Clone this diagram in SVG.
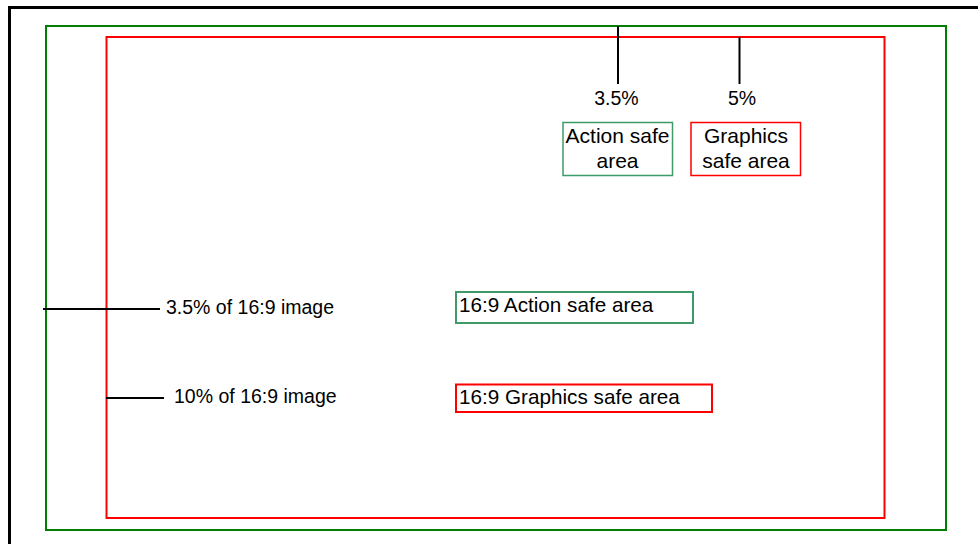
<svg xmlns="http://www.w3.org/2000/svg" width="978" height="544" viewBox="0 0 978 544">
<style>
text{font-family:"Liberation Sans",Arial,sans-serif;fill:#000}
.lbl{font-size:21px}
.wide{font-size:20.7px}
.sm{font-size:19.5px}
.ln{stroke:#000;stroke-width:2;fill:none}
</style>
<rect width="978" height="544" fill="#fff"/>
<g id="frame"><path d="M9.5,544 V7.5 H980" fill="none" stroke="#000" stroke-width="3"/></g>
<g id="action-area"><rect x="46" y="26" width="900" height="504" fill="none" stroke="#008000" stroke-width="2"/></g>
<g id="graphics-area"><rect x="106.5" y="37" width="778" height="481" fill="none" stroke="#ff0000" stroke-width="2"/></g>
<g id="connectors">
<line class="ln" x1="618" y1="26" x2="618" y2="84"/>
<line class="ln" x1="739.5" y1="37" x2="739.5" y2="84"/>
<line class="ln" x1="43" y1="309" x2="160" y2="309"/>
<line class="ln" x1="106" y1="398" x2="164" y2="398"/>
</g>
<g id="label-35"><text class="sm" x="616.5" y="104.5" text-anchor="middle">3.5%</text></g>
<g id="label-5"><text class="sm" x="742" y="104.5" text-anchor="middle">5%</text></g>
<g id="action-key"><rect x="563" y="122.5" width="109.5" height="53" fill="none" stroke="#3f9a6a" stroke-width="1.5"/>
<text class="lbl" x="617.5" y="143" text-anchor="middle">Action safe</text>
<text class="lbl" x="617.5" y="167.5" text-anchor="middle">area</text></g>
<g id="graphics-key"><rect x="691" y="122.5" width="109.5" height="53" fill="none" stroke="#ff0000" stroke-width="1.5"/>
<text class="lbl" x="746" y="143" text-anchor="middle">Graphics</text>
<text class="lbl" x="746" y="167.5" text-anchor="middle">safe area</text></g>
<g id="label-35-image"><text class="sm" x="166" y="314">3.5% of 16:9 image</text></g>
<g id="label-10-image"><text class="sm" x="174" y="402.5">10% of 16:9 image</text></g>
<g id="action-169"><rect x="456" y="292" width="237" height="31" fill="none" stroke="#3f9a6a" stroke-width="2"/>
<text class="wide" x="459" y="312">16:9 Action safe area</text></g>
<g id="graphics-169"><rect x="456" y="384.5" width="256" height="27.5" fill="none" stroke="#ff0000" stroke-width="2"/>
<text class="wide" x="459" y="404">16:9 Graphics safe area</text></g>
</svg>
